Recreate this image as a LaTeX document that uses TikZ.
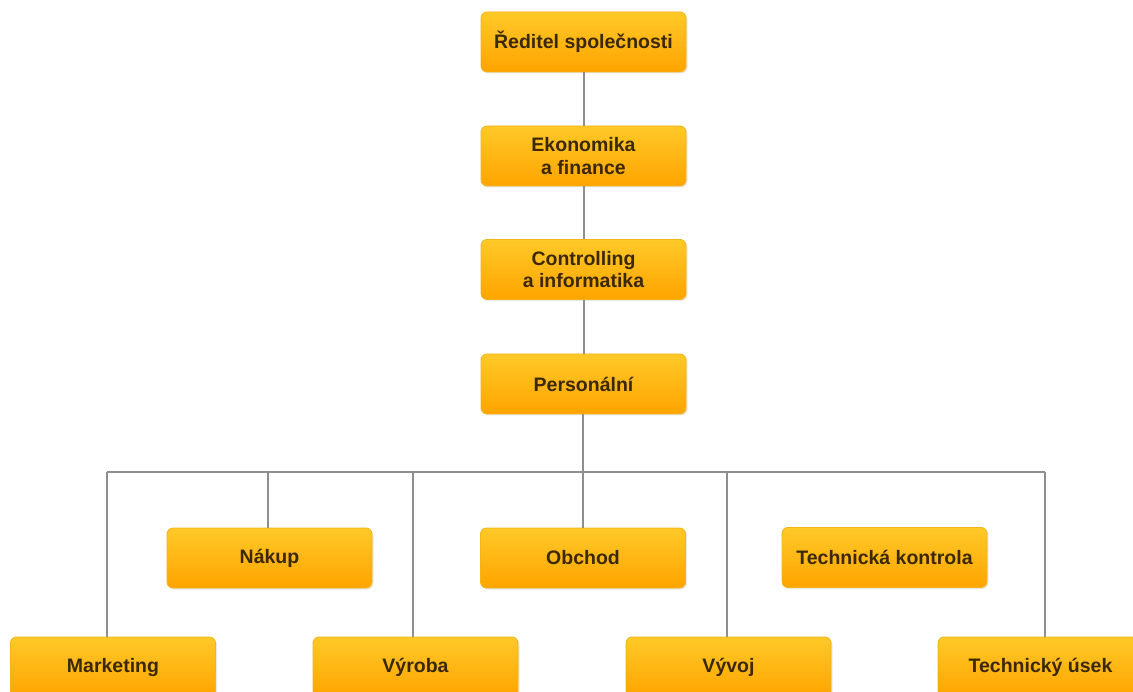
\documentclass[tikz,border=0pt]{standalone}
\usepackage{fontspec}
\setmainfont{Liberation Sans}
\usetikzlibrary{shadows}
\definecolor{boxtop}{HTML}{FFC928}
\definecolor{boxbot}{HTML}{FFA400}
\definecolor{boxedge}{HTML}{F2B418}
\definecolor{txt}{HTML}{3A2806}
\definecolor{wire}{HTML}{8E8E8E}
\tikzset{
  orgbox/.style={rectangle, rounded corners=6pt, minimum width=205pt, minimum height=60pt,
    top color=boxtop, bottom color=boxbot, draw=boxedge, line width=0.8pt,
    drop shadow={shadow xshift=1.5pt, shadow yshift=-1.5pt, opacity=0.18},
    font=\fontsize{19.5}{22.5}\selectfont\bfseries, text=txt, align=center, inner sep=2pt},
  wireline/.style={draw=wire, line width=2pt}
}
\begin{document}
\begin{tikzpicture}[x=1pt,y=-1pt]
\useasboundingbox (0,0) rectangle (1133,692);
\fill[white] (0,0) rectangle (1133,692);
\coordinate (bus) at (583,472);
\coordinate (bL) at (107,472);
\coordinate (bN) at (268,472);
\coordinate (bV) at (413,472);
\coordinate (bW) at (727,472);
\coordinate (bR) at (1045,472);
\node[orgbox] (dir) at (583.5,42) {Ředitel společnosti};
\node[orgbox] (eko) at (583.5,156) {Ekonomika\\a finance};
\node[orgbox] (con) at (583.5,269.5) {Controlling\\a informatika};
\node[orgbox] (per) at (583.5,384) {Personální};
\node[orgbox] (nak) at (269.5,558) {Nákup};
\node[orgbox] (obc) at (583,558) {Obchod};
\node[orgbox] (tko) at (884.5,557.5) {Technická kontrola};
\node[orgbox] (mkt) at (113,667) {Marketing};
\node[orgbox] (vyr) at (415.5,667) {Výroba};
\node[orgbox] (vyv) at (728.5,667) {Vývoj};
\node[orgbox] (tus) at (1040.5,667) {Technický úsek};
\draw[wireline] (dir.south) -- (eko.north);
\draw[wireline] (eko.south) -- (con.north);
\draw[wireline] (con.south) -- (per.north);
\draw[wireline] (per.south -| bus) -- (bus) -- (obc.north -| bus);
\draw[wireline] (bL) -- (bR);
\draw[wireline] (bL) -- (bL |- mkt.north);
\draw[wireline] (bN) -- (bN |- nak.north);
\draw[wireline] (bV) -- (bV |- vyr.north);
\draw[wireline] (bW) -- (bW |- vyv.north);
\draw[wireline] (bR) -- (bR |- tus.north);
\end{tikzpicture}
\end{document}
